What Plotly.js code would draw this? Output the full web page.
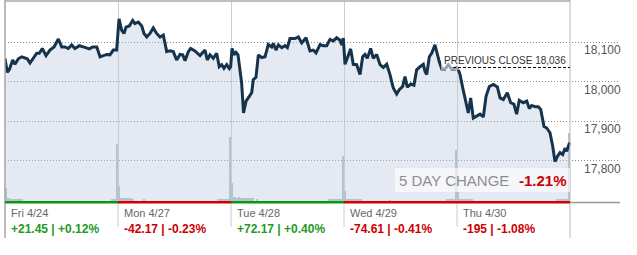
<!DOCTYPE html>
<html>
<head>
<meta charset="utf-8">
<script src="https://cdn.plot.ly/plotly-3.0.1.min.js"></script>
<style>
  html, body { margin: 0; padding: 0; background: #fff; }
  #chart { width: 637px; height: 255px; }
</style>
</head>
<body>
<div id="chart"></div>
<script>
// ---------- data ----------
const days = ['Fri 4/24', 'Mon 4/27', 'Tue 4/28', 'Wed 4/29', 'Thu 4/30'];
const netChange = ['+21.45', '-42.17', '+72.17', '-74.61', '-195'];
const pctChange = ['+0.12%', '-0.23%', '+0.40%', '-0.41%', '-1.08%'];
const prevClose = 18036;
const fiveDayChange = '-1.21%';
const tickVals = [17800, 17900, 18000, 18100];

// time in trading days (0 = Fri open, 5 = Thu close)
const tFri = [0, 0.020, 0.038, 0.068, 0.088, 0.118, 0.148, 0.177, 0.197, 0.221, 0.250, 0.281, 0.304, 0.330, 0.363, 0.398, 0.434, 0.472, 0.502, 0.531, 0.560, 0.590, 0.619, 0.658, 0.693, 0.723, 0.746, 0.776, 0.812, 0.841, 0.870, 0.900, 0.929, 0.958, 0.988];
const vFri = [18059, 18024, 18030, 18055, 18044, 18058, 18063, 18059, 18058, 18047, 18059, 18072, 18072, 18084, 18066, 18080, 18088, 18108, 18088, 18088, 18084, 18093, 18084, 18091, 18088, 18086, 18083, 18088, 18088, 18063, 18066, 18069, 18068, 18080, 18080];
const tMon = [1.009, 1.033, 1.053, 1.071, 1.100, 1.130, 1.150, 1.180, 1.210, 1.230, 1.254, 1.283, 1.312, 1.342, 1.372, 1.401, 1.431, 1.460, 1.489, 1.519, 1.549, 1.573, 1.593, 1.622, 1.643, 1.681, 1.726, 1.770, 1.790, 1.814, 1.843, 1.873, 1.896, 1.918, 1.938, 1.962, 1.985, 1.997];
const vMon = [18159, 18130, 18122, 18138, 18141, 18155, 18147, 18151, 18141, 18122, 18113, 18122, 18136, 18122, 18113, 18118, 18076, 18078, 18076, 18055, 18069, 18068, 18053, 18076, 18084, 18078, 18066, 18080, 18055, 18068, 18059, 18072, 18038, 18043, 18034, 18043, 18033, 18038];
const tTue = [2.009, 2.027, 2.044, 2.062, 2.073, 2.094, 2.111, 2.133, 2.162, 2.183, 2.197, 2.221, 2.242, 2.272, 2.301, 2.330, 2.360, 2.374, 2.398, 2.419, 2.449, 2.478, 2.499, 2.522, 2.566, 2.596, 2.626, 2.664, 2.699, 2.728, 2.752, 2.788, 2.817, 2.847, 2.876, 2.905, 2.935, 2.965, 2.980, 2.994];
const vTue = [18084, 18068, 18074, 18068, 18043, 17997, 17921, 17951, 17963, 17972, 18005, 18011, 18068, 18061, 18063, 18094, 18088, 18097, 18080, 18093, 18086, 18091, 18086, 18109, 18109, 18113, 18098, 18111, 18078, 18080, 18073, 18094, 18091, 18091, 18107, 18103, 18111, 18105, 18093, 18110];
const tWed = [3.009, 3.038, 3.059, 3.082, 3.112, 3.142, 3.165, 3.186, 3.206, 3.236, 3.259, 3.289, 3.319, 3.348, 3.378, 3.407, 3.436, 3.466, 3.489, 3.519, 3.540, 3.560, 3.590, 3.619, 3.643, 3.673, 3.702, 3.717, 3.732, 3.755, 3.776, 3.805, 3.826, 3.843, 3.865, 3.894, 3.923, 3.953, 3.982, 3.995];
const vWed = [18044, 18068, 18083, 18044, 18043, 18018, 18063, 18069, 18059, 18084, 18059, 18069, 18043, 18036, 18044, 18018, 17984, 17969, 17980, 17988, 18013, 17986, 17994, 17991, 18030, 18038, 18044, 18026, 18018, 18063, 18072, 18093, 18068, 18051, 18032, 18032, 18043, 18032, 18032, 18036];
const tThu = [4.009, 4.027, 4.051, 4.080, 4.100, 4.121, 4.144, 4.174, 4.204, 4.233, 4.257, 4.286, 4.322, 4.357, 4.381, 4.410, 4.445, 4.475, 4.504, 4.528, 4.551, 4.587, 4.617, 4.640, 4.661, 4.690, 4.719, 4.741, 4.770, 4.794, 4.823, 4.847, 4.867, 4.888, 4.912, 4.935, 4.956, 4.971, 4.985, 4.996];
const vThu = [18032, 18018, 17984, 17947, 17921, 17959, 17908, 17913, 17918, 17911, 17963, 17988, 17993, 17987, 17959, 17955, 17972, 17947, 17943, 17918, 17953, 17947, 17951, 17932, 17940, 17937, 17937, 17930, 17887, 17883, 17871, 17837, 17798, 17811, 17821, 17816, 17832, 17824, 17838, 17846];

// volume (arbitrary units) at bar centres
const volT = [0.01, 0.03, 0.05, 0.07, 0.09, 0.11, 0.13, 0.15, 0.95, 0.97, 0.99,
  1.01, 1.03, 1.05, 1.07, 1.09, 1.11, 1.13, 1.23, 1.89, 1.91, 1.93, 1.95, 1.97, 1.99,
  2.01, 2.03, 2.05, 2.07, 2.09, 2.11, 2.13, 2.15, 2.17, 2.19, 2.23, 2.87, 2.89, 2.91, 2.93, 2.95, 2.97, 2.99,
  3.01, 3.03, 3.05, 3.07, 3.09, 3.11, 3.13, 3.15, 3.41, 3.91, 3.93, 3.95, 3.97, 3.99,
  4.01, 4.03, 4.05, 4.07, 4.09, 4.11, 4.13, 4.89, 4.91, 4.93, 4.95, 4.97, 4.99];
const volV = [7, 2.1, 1.5, 1.5, 1.5, 1.5, 1.5, 1.5, 1.5, 1.5, 29,
  8, 1.8, 1.8, 1.8, 1.8, 1.8, 1.5, 1.6, 1.4, 1.4, 1.4, 1.4, 1.4, 32.5,
  9.6, 2.4, 2.0, 2.5, 1.8, 1.8, 1.8, 1.8, 1.8, 1.8, 1.5, 1.4, 1.4, 1.4, 1.4, 1.4, 1.4, 23,
  5.6, 1.6, 1.6, 1.5, 1.5, 1.5, 1.5, 1.5, 1.2, 1.4, 1.4, 1.4, 1.4, 26,
  5, 1.5, 1.5, 1.5, 1.5, 1.5, 1.5, 1.7, 1.7, 1.7, 1.7, 1.7, 34.5];

// ---------- build ----------
const tPrice = [].concat(tFri, tMon, tTue, tWed, tThu);
const price = [].concat(vFri, vMon, vTue, vWed, vThu);

const FONT = 'Arial, "Liberation Sans", sans-serif';
const GREEN_TXT = '#249a24', RED_TXT = '#cc0000';
const GREEN_BAR = '#0b990b', RED_BAR = '#d40000';
const Y_RANGE = [17696, 18204];
const PLOT_L = 5, PLOT_T = 1, PLOT_H = 201, DAY_W = 113;
const X_MAX = (620 - PLOT_L) / DAY_W;
const px2t = px => (px - PLOT_L) / DAY_W;
const px2v = py => Y_RANGE[1] - (py - PLOT_T) * (Y_RANGE[1] - Y_RANGE[0]) / PLOT_H;
const py2paper = py => (PLOT_T + PLOT_H - py) / PLOT_H;
const nDays = days.length;

const traces = [
  { type: 'scatter', mode: 'lines', x: tPrice, y: price, fill: 'tozeroy',
    fillcolor: 'rgba(190,203,222,0.40)', line: { width: 0, color: 'rgba(0,0,0,0)' },
    hoverinfo: 'skip', yaxis: 'y' },
  { type: 'bar', x: volT, y: volV, width: 0.02, marker: { color: '#b3c3d3', line: { width: 0 } },
    hoverinfo: 'skip', yaxis: 'y2' },
  { type: 'scatter', mode: 'lines', x: tPrice, y: price,
    line: { width: 3, color: '#15344c' }, hoverinfo: 'skip', yaxis: 'y3' }
];

const shapes = [];
// borders
shapes.push({ type: 'line', xref: 'paper', yref: 'paper', x0: 0, x1: 0, y0: py2paper(238), y1: py2paper(0),
  line: { color: '#a6a6a6', width: 1.5 } });
shapes.push({ type: 'line', xref: 'x', yref: 'paper', x0: nDays, x1: nDays, y0: py2paper(238), y1: py2paper(0),
  line: { color: '#b8b8b8', width: 1 } });
shapes.push({ type: 'line', xref: 'paper', yref: 'paper', x0: 0, x1: nDays / X_MAX, y0: py2paper(1), y1: py2paper(1),
  line: { color: '#aaaaaa', width: 1.5 } });
// day separators below plot
for (let i = 1; i < nDays; i++) {
  shapes.push({ type: 'line', xref: 'x', yref: 'paper', x0: i, x1: i, y0: py2paper(227), y1: py2paper(202),
    line: { color: '#cccccc', width: 1 } });
}
// grey base line on the right
shapes.push({ type: 'line', xref: 'x', yref: 'paper', x0: nDays, x1: X_MAX, y0: py2paper(202.4), y1: py2paper(202.4),
  line: { color: '#999999', width: 1.5 } });
// day coloured base bars
for (let i = 0; i < nDays; i++) {
  const up = netChange[i].trim().startsWith('+');
  shapes.push({ type: 'line', xref: 'x', yref: 'paper', x0: i, x1: i + 1, y0: py2paper(202.3), y1: py2paper(202.3),
    line: { color: up ? GREEN_BAR : RED_BAR, width: 2.6 } });
}
// previous close label background and dashed line
shapes.push({ type: 'rect', xref: 'x', yref: 'y', layer: 'above', x0: px2t(441), x1: px2t(566), y0: px2v(70), y1: px2v(54),
  fillcolor: 'rgba(255,255,255,0.55)', line: { width: 0 } });
shapes.push({ type: 'line', xref: 'x', yref: 'y', layer: 'above', x0: px2t(453), x1: nDays, y0: prevClose, y1: prevClose,
  line: { color: '#000000', width: 1, dash: '3px,2px' } });
// 5 day change box
shapes.push({ type: 'rect', xref: 'x', yref: 'y', layer: 'above', x0: px2t(395), x1: nDays, y0: px2v(192), y1: px2v(168),
  fillcolor: 'rgba(255,255,255,0.6)', line: { width: 0 } });

const annotations = [];
tickVals.forEach(v => {
  annotations.push({ xref: 'x', yref: 'y', x: px2t(582), y: v, yshift: 1, xanchor: 'left', yanchor: 'top', showarrow: false,
    text: v.toLocaleString('en-US'), font: { family: FONT, size: 12, color: '#555555' } });
});
annotations.push({ xref: 'x', yref: 'y', x: px2t(442), y: prevClose, yshift: -1, xanchor: 'left', yanchor: 'bottom', showarrow: false,
  text: 'PREVIOUS CLOSE ' + prevClose.toLocaleString('en-US'), font: { family: FONT, size: 10, color: '#333333' } });
annotations.push({ xref: 'x', yref: 'y', x: px2t(511), y: px2v(180.5), xanchor: 'right', yanchor: 'middle', showarrow: false,
  text: '5 DAY CHANGE', font: { family: FONT, size: 15, color: '#8e8e8e' } });
annotations.push({ xref: 'x', yref: 'y', x: px2t(517), y: px2v(180.5), xanchor: 'left', yanchor: 'middle', showarrow: false,
  text: '<b>' + fiveDayChange + '</b>', font: { family: FONT, size: 15, color: RED_TXT } });
for (let i = 0; i < nDays; i++) {
  const up = netChange[i].trim().startsWith('+');
  annotations.push({ xref: 'x', yref: 'paper', x: i, xshift: 4, y: 0, yshift: -11, xanchor: 'left', yanchor: 'middle',
    showarrow: false, text: days[i], font: { family: FONT, size: 11, color: '#666666' } });
  annotations.push({ xref: 'x', yref: 'paper', x: i, xshift: 4, y: 0, yshift: -27, xanchor: 'left', yanchor: 'middle',
    showarrow: false, text: '<b>' + netChange[i] + ' | ' + pctChange[i] + '</b>',
    font: { family: FONT, size: 12, color: up ? GREEN_TXT : RED_TXT } });
}

const layout = {
  width: 637, height: 255,
  margin: { l: PLOT_L, r: 637 - 620, t: PLOT_T, b: 255 - PLOT_T - PLOT_H, pad: 0 },
  paper_bgcolor: '#ffffff', plot_bgcolor: '#ffffff',
  showlegend: false, hovermode: false, bargap: 0,
  font: { family: FONT },
  xaxis: { range: [0, X_MAX], tickvals: [1, 2, 3, 4], showticklabels: false, ticks: '',
    showgrid: true, gridcolor: '#c9cdd4', gridwidth: 1, zeroline: false, showline: false, fixedrange: true },
  yaxis: { range: Y_RANGE, tickvals: tickVals, showticklabels: false, ticks: '',
    showgrid: true, gridcolor: '#8a8a8a', gridwidth: 1, griddash: '1px,2px', zeroline: false, showline: false, fixedrange: true },
  yaxis2: { overlaying: 'y', range: [0, 100], visible: false, showgrid: false, zeroline: false, fixedrange: true },
  yaxis3: { overlaying: 'y', range: Y_RANGE, visible: false, showgrid: false, zeroline: false, fixedrange: true },
  shapes: shapes,
  annotations: annotations
};

Plotly.newPlot('chart', traces, layout, { staticPlot: true, displayModeBar: false });
</script>
</body>
</html>
